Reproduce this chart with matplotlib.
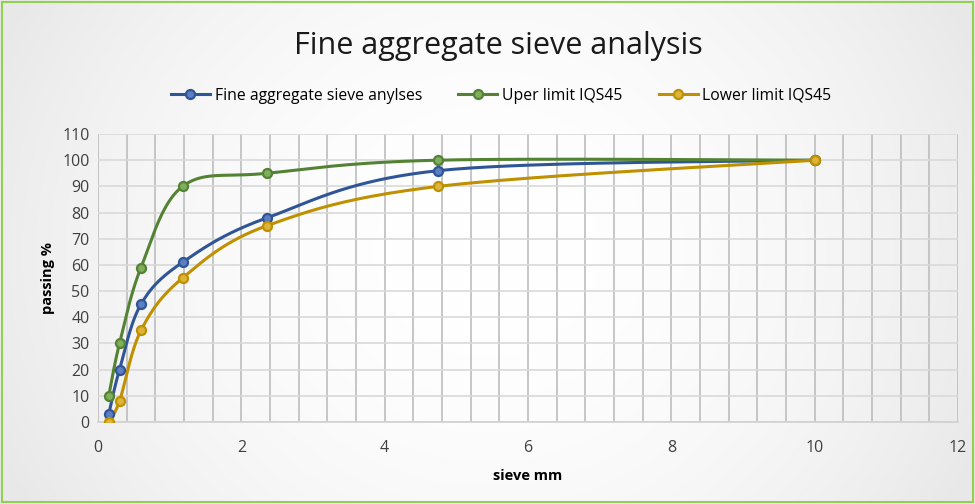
import numpy as np
import matplotlib.pyplot as plt
from matplotlib.patches import Rectangle

# sieve sizes (mm) and percent passing
sieve_mm = [0.15, 0.3, 0.6, 1.18, 2.36, 4.75, 10]
fine_agg = [3, 20, 45, 61, 78, 96, 100]
upper_limit = [10, 30, 59, 90, 95, 100, 100]
lower_limit = [0, 8, 35, 55, 75, 90, 100]

series = [
    ("Fine aggregate sieve anylses", fine_agg, "#2F5597", "#5B7FC0"),
    ("Uper limit IQS45", upper_limit, "#548235", "#7FAF5C"),
    ("Lower limit IQS45", lower_limit, "#BF9000", "#DDB43A"),
]

plt.rcParams['font.family'] = ['Open Sans', 'DejaVu Sans']


def smooth_curve(x, y, n=40):
    """Bezier smoothing through every point, like spreadsheet 'smoothed line'."""
    p = np.column_stack([x, y]).astype(float)
    pts = np.vstack([p[0], p, p[-1]])
    out = []
    t = np.linspace(0, 1, n)[:, None]
    for i in range(1, len(pts) - 2):
        p0, p1, p2, p3 = pts[i - 1], pts[i], pts[i + 1], pts[i + 2]
        c1 = p1 + (p2 - p0) / 6.0
        c2 = p2 - (p3 - p1) / 6.0
        seg = ((1 - t) ** 3 * p1 + 3 * (1 - t) ** 2 * t * c1
               + 3 * (1 - t) * t ** 2 * c2 + t ** 3 * p2)
        out.append(seg if i == 1 else seg[1:])
    c = np.vstack(out)
    return c[:, 0], c[:, 1]


fig = plt.figure(figsize=(9.75, 5.04), dpi=100)

# soft grey-to-white background
bg = fig.add_axes([0, 0, 1, 1], zorder=-10)
gx, gy = np.meshgrid(np.linspace(-1, 1, 400), np.linspace(-1, 1, 200))
r = np.clip(np.sqrt((gx * 0.9) ** 2 + (gy * 0.5) ** 2), 0, 1)
shade = 1.0 - 0.09 * r ** 2
bg.imshow(np.dstack([shade] * 3), aspect='auto', extent=[0, 1, 0, 1])
bg.axis('off')
fig.patches.append(Rectangle((0.002, 0.003), 0.996, 0.994, transform=fig.transFigure,
                             fill=False, edgecolor="#92D050", linewidth=1.5))

ax = fig.add_axes([98 / 975, 1 - 422 / 504, 860 / 975, 288 / 504])
ax.set_facecolor('none')

for label, vals, color, face in series:
    sx, sy = smooth_curve(sieve_mm, vals)
    ax.plot(sx, sy, color=color, linewidth=2.2, zorder=3)
    ax.plot(sieve_mm, vals, linestyle='none', marker='o', markersize=6.5,
            markerfacecolor=face, markeredgecolor=color, markeredgewidth=1.6, zorder=4)
    ax.plot([], [], color=color, linewidth=2.2, marker='o', markersize=6.5,
            markerfacecolor=face, markeredgecolor=color, markeredgewidth=1.6, label=label)

ax.set_xlim(0, 12)
ax.set_ylim(0, 110)
ax.set_xticks(np.arange(0, 13, 2))
ax.set_xticks(np.arange(0, 12.01, 0.4), minor=True)
ax.set_yticks(np.arange(0, 111, 10))
ax.grid(True, axis='x', which='both', color='#BDBDBD', linewidth=1.2, zorder=0)
ax.grid(True, axis='y', which='major', color='#D9D9D9', linewidth=1.2, zorder=0)
for side in ['top', 'right', 'left']:
    ax.spines[side].set_visible(False)
ax.spines['bottom'].set_color('#D0D0D0')
ax.spines['bottom'].set_linewidth(1.2)
ax.tick_params(which='both', length=0, labelsize=11.5, colors='#404040')
ax.tick_params(axis='x', pad=13)
ax.tick_params(axis='y', pad=6)
ax.set_axisbelow(True)

ax.set_xlabel('sieve mm', fontsize=10.5, fontweight='bold', color='#000000', labelpad=9)
ax.set_ylabel('passing %', fontsize=10.5, fontweight='bold', color='#000000', labelpad=5)

fig.text(0.511, 0.908, 'Fine aggregate sieve analysis', ha='center', va='center',
         fontsize=22, color='#1A1A1A')
fig.legend(loc='center', bbox_to_anchor=(0.514, 0.81), ncol=3, frameon=False,
           fontsize=11.3, handlelength=2.5, columnspacing=2.3, handletextpad=0.3)

fig.savefig('out.png', dpi=100)
